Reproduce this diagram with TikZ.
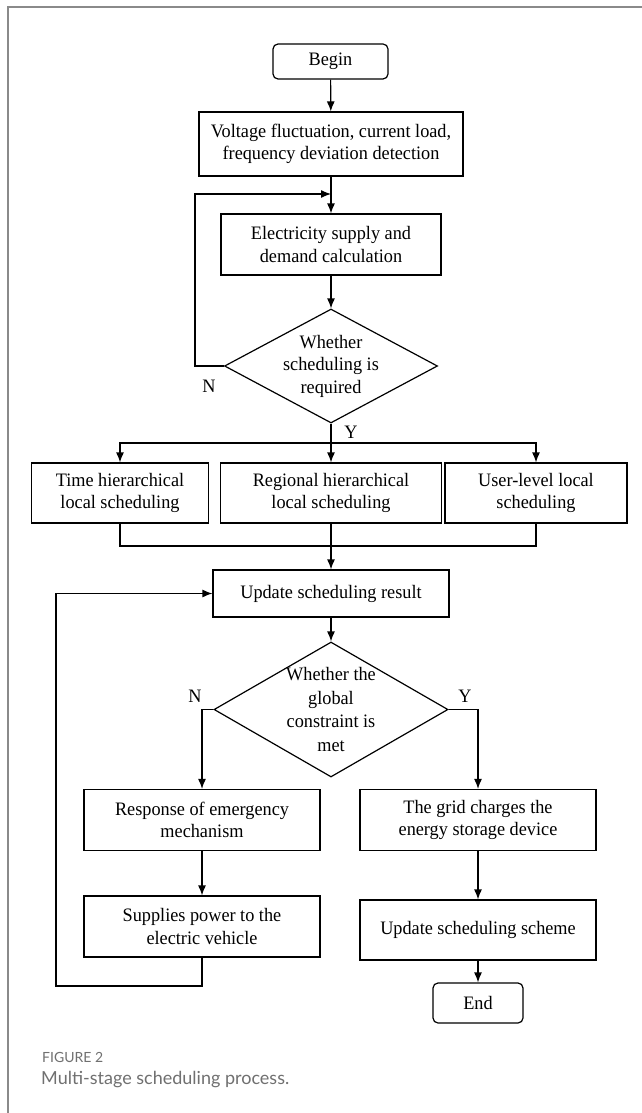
\documentclass[tikz,border=0pt]{standalone}
\usepackage{fontspec}
\setmainfont{Liberation Serif}[FakeStretch=0.96]
\newfontfamily\capfont{Lato}
\usetikzlibrary{shapes.geometric,arrows.meta}
\definecolor{framegray}{HTML}{8A8A8A}
\definecolor{capgray}{HTML}{707070}
\begin{document}
\begin{tikzpicture}[x=1pt,y=-1pt,
  txt/.style={font=\fontsize{19}{22.5}\selectfont, align=center},
  box/.style={txt, draw, line width=1.2pt, inner sep=0pt},
  term/.style={box, rounded corners=5pt},
  dec/.style={diamond, draw, line width=1.2pt, inner sep=0pt},
  conn/.style={line width=1.2pt},
  arr/.style={conn, -{Latex[length=10pt,width=8pt]}},
  lab/.style={font=\fontsize{19}{22}\selectfont, inner sep=0pt}]
\useasboundingbox (0,0) rectangle (642,1113);
\fill[white] (0,0) rectangle (642,1113);
% frame
\draw[framegray, line width=2pt] (7.5,1120) -- (7.5,7.5) -- (650,7.5);

% nodes
\node[term, minimum width=115pt, minimum height=35pt] (begin) at (330.5,61.5) {Begin};
\node[box, minimum width=264pt, minimum height=64pt] (volt) at (331,144) {Voltage fluctuation, current load,\\frequency deviation detection};
\node[box, minimum width=220pt, minimum height=61pt] (elec) at (331,244.5) {Electricity supply and\\demand calculation};
\node[dec, minimum width=213pt, minimum height=114pt] (d1) at (331,366) {};
\node[txt] (d1t) at (d1.center) {Whether\\scheduling is\\required};
\node[box, minimum width=177.5pt, minimum height=60pt] (time) at (120,493) {Time hierarchical\\local scheduling};
\node[box, minimum width=221pt, minimum height=60pt] (reg) at (331,493) {Regional hierarchical\\local scheduling};
\node[box, minimum width=182pt, minimum height=60pt] (user) at (536,493) {User-level local\\scheduling};
\node[box, minimum width=236pt, minimum height=47pt] (upd) at (331,593.5) {Update scheduling result};
\node[dec, minimum width=234pt, minimum height=135pt] (d2) at (331,709.5) {};
\node[txt, font=\fontsize{19}{23.5}\selectfont] (d2t) at (d2.center) {Whether the\\global\\constraint is\\met};
\node[box, minimum width=236pt, minimum height=61pt] (resp) at (202,820) {Response of emergency\\mechanism};
\node[box, minimum width=236pt, minimum height=61pt] (grid) at (478,820) {The grid charges the\\energy storage device};
\node[box, minimum width=236pt, minimum height=61pt] (supp) at (202,926.5) {Supplies power to the\\electric vehicle};
\node[box, minimum width=236pt, minimum height=60pt] (scheme) at (478,930) {Update scheduling scheme};
\node[term, minimum width=90pt, minimum height=40pt] (end) at (478,1003) {End};

% labels
\node[lab] (n1) at (209,386) {N};
\node[lab] (y1) at (351,432) {Y};
\node[lab] (n2) at (195,696) {N};
\node[lab] (y2) at (465,696) {Y};

% helper coordinates
\coordinate (j1) at (331,194);
\coordinate (l1) at (195,366);
\coordinate (br) at (331,443);
\coordinate (mg) at (331,546);
\coordinate (lp) at (56,986);

% connectors
\draw[arr] (begin) -- (volt);
\draw[arr] (volt) -- (elec);
\draw[arr] (elec) -- (d1.north);
\draw[arr] (d1.west) -- (l1) |- (j1);
\draw[conn] (d1.south) -- (br);
\draw[arr] (br) -- (reg.north);
\draw[arr] (br) -| (time.north);
\draw[arr] (br) -| (user.north);
\draw[conn] (time.south) |- (mg);
\draw[conn] (user.south) |- (mg);
\draw[arr] (reg.south) -- (upd.north);
\draw[arr] (upd.south) -- (d2.north);
\draw[arr] (d2.west) -| (resp.north);
\draw[arr] (d2.east) -| (grid.north);
\draw[arr] (resp) -- (supp);
\draw[arr] (supp.south) |- (lp) |- (upd.west);
\draw[arr] (grid) -- (scheme);
\draw[arr] (scheme) -- (end);

% caption
\node[anchor=west, inner sep=0pt, text=capgray, font=\capfont\fontsize{14}{16}\selectfont] (figno) at (42,1057) {FIGURE 2};
\node[anchor=west, inner sep=0pt, text=capgray, font=\capfont\fontsize{18}{20}\selectfont] (cap) at (41,1080) {Multi-stage scheduling process.};
\end{tikzpicture}
\end{document}
